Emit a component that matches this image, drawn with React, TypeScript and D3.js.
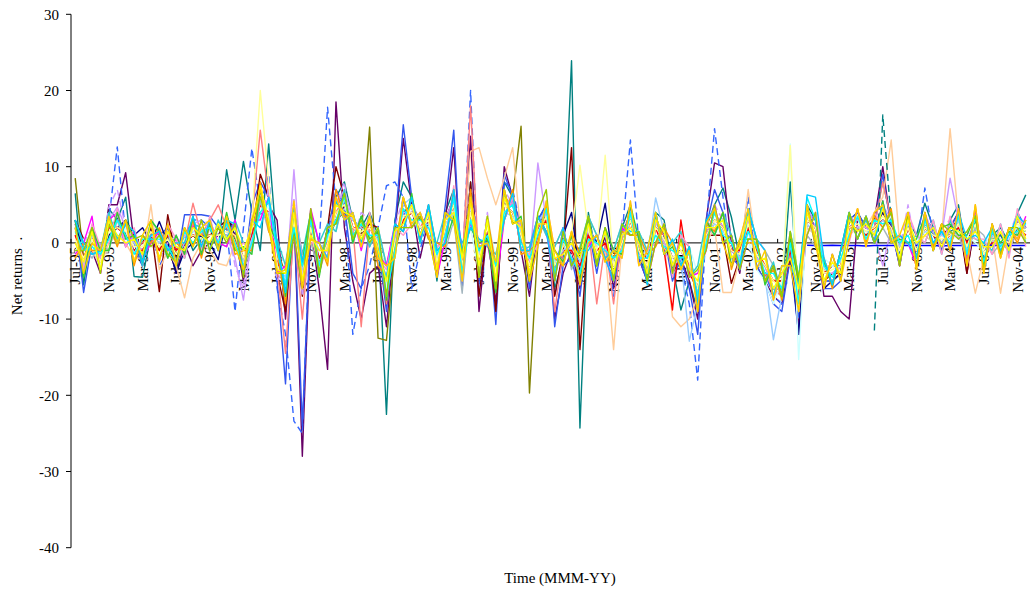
import * as d3 from 'd3';
import { useEffect, useRef } from 'react';

const WIDTH = 1030;
const HEIGHT = 590;

// monthly categories Jul-95 .. Dec-04
const months = d3
  .timeMonth.range(new Date(1995, 6, 1), new Date(2005, 0, 1))
  .map(d3.timeFormat('%b-%y'));

const tickLabels = [
  'Jul-95', 'Nov-95', 'Mar-96', 'Jul-96', 'Nov-96', 'Mar-97', 'Jul-97', 'Nov-97', 'Mar-98', 'Jul-98',
  'Nov-98', 'Mar-99', 'Jul-99', 'Nov-99', 'Mar-00', 'Jul-00', 'Nov-00', 'Mar-01', 'Jul-01', 'Nov-01',
  'Mar-02', 'Jul-02', 'Nov-02', 'Mar-03', 'Jul-03', 'Nov-03', 'Mar-04', 'Jul-04', 'Nov-04',
];
const yTicks = [-40, -30, -20, -10, 0, 10, 20, 30];

// net returns (%) per fund, one value per month
const tealFund = [
  6.5, -5.5, 2, -3, 4.5, 3, 6, -4.4, -4.5, 1,
  -2, 1, -3.5, 2, -1, 0.5, 2, -1, 9.6, 3,
  10.7, 4, -1, 13, -1, -8, 5, -6, 4, -4,
  2, 6, 8, 3, 2, 4, 1, -22.5, 3, 8,
  6, 1, 4, -5, 4, 7, -5, 8, -4, 3,
  -6, 8, 6, 2, -5, 3, 5, -6, -2, 23.9,
  -24.3, 4, -2, 1, -5, 2, 5, -2, -4, 4,
  3, -3, -8.8, -5, -9, 2, 5, 7.2, 3.4, -2,
  4, -2, -4, -6, -7, 8, -8, 5, 3, -5,
  -5, -4, 3, 4, 2, 3, 8, 3, -2, 3,
  1, 5.2, 2, -1, 3, 5, -2, 4, -3, 1,
  2, 0, 3.9, 6.3,
];
const plumFund = [
  3, -2, -1, -4, 5, 5, 9.2, 0, -1, 1,
  -2, 0, -4, 0, -3, -1, 0, 1, 3, 1,
  -5, 2, 6, 5, 3, -10, 4, -28, 2, -6,
  -16.6, 18.5, 2, -5, -10, -4, -3, -11, 1, 13.7,
  5, -2, 3, -3, 3, 12.5, -5, 14, -9, 2,
  -8, 10, 6, -1, -7, 2, 4, -10, -4, -1,
  -6, 3, -3, 1, -6, 1, 4, -2, -5, 3,
  1, -4, -2, -5, -10, 3, 10.5, 10, 0, -4,
  4, -3, -5, -7, -8, -2, -11, 4, 2, -7,
  -7, -9, -10, 3, 2, 3, 10, 2, -3, 3,
  -2, 3, 1, -1, 2, 4, -4, 3, -3, 1,
  1, -1, 3, 2,
];
const dashedBlueFund = [
  2, -4, 1, -2, 3, 12.6, 1, -1, -3, 3,
  -3, -1, -2, 1, 3, 3, 2, 1, 2, -9,
  2, 12.4, 5, 9, -6, -12, -23.4, -25, 4, 0,
  17.8, 5, 6, -12, -6, -3, 2, 7.5, 8, 6,
  -6, -1, 4, -4, 3, 6, -4, 20, -6, 3,
  -6, 8, 7, 2, -5, 2, 5, -7, -2, 0,
  -5, 2, -2, 1, -7, 1, 13.5, 0, -4, 3,
  1, -3, -3, -8, -18, 2, 15, 6, -2, -1,
  6, -3, -4, -7, -8, -1, -10, 4, 2, -5,
  -5, -4, 3, 3, 2, 2, 5, 2, -2, 2,
  -1, 7.2, 1, 0, 2, 3, -1, 3, -2, 1,
  1, 0, 3, 2,
];
const oliveFund = [
  8.5, -2, 0, -3, 1, 2, 1, -1, 0, 1,
  -1, 2.5, -1, 0, 1, 0, 1, 1, 2, 0.5,
  -2, 1, 4, 3, -1, -4, 2, -3, 2, -2,
  0, 3, 4, 2, 1, 15.2, -12.5, -12.8, -1, 3,
  4, 2, 3, -2, 2, 4, -3, 3, -2, 2,
  -4, 5, 6, 15.3, -19.7, 0, 4, -3, -1, -1,
  -3, 1, -1, 0, -3, 0, 3, -1, -3, 2,
  0, -2, -1, -3, -6, 1, 3, 2, -1, -1,
  2, -1, -3, -5, -5, -1, -7, 3, 2, -4,
  -3, -3, 2, 2, 1, 2, 3, 2, -1, 2,
  -1, 2, 1, 0, 1, 2, 0, 2, -1, 0,
  0, 0, 2, 1,
];
const blueFund = [
  3, -6.5, 0, -2, 2, 3, 2, 0, -3, 2,
  1, 2, -3, 3.7, 3.7, 3.7, 3.5, 2, 3, 2,
  -4, 5, 8, 6, -5, -18.5, 4, -24, 3, -4,
  1, 7, 5, -4, -6, 2, 0, -9, 2, 15.5,
  6, 1, 4, -4, 5, 14.8, -6, 7, -5, 3,
  -10.7, 9, 6, 2, -6, 3, 5, -11, -3, -2,
  -7, 2, -4, 2, -5, -1, 5, -2, -5, 3,
  1, -5, -2, -6, -12, 2, 7, 4, -2, -3,
  4, -3, -5, -8, -9, -2, -12, 4, 3, -6,
  -6, -5, 3, 4, 2, 2, 9, 2, -3, 3,
  -2, 3, 2, -1, 2, 4, -3, 4, -3, 1,
  1, -1, 4, 2,
];
const maroonFund = [
  3, 0.5, 0, -1, 2, 3, 1, -1, 0, 2,
  -6.4, 3.7, -2, 0, 1, 0, 1, 2, 3, 2,
  -4, 1, 9, 6, -4, -9, 4, -7, 3, -3,
  2, 10, 6, 2, 1, 2.5, 2, -8, 0, 4,
  5, 3, 3, -3, 3, 6, -4, 8, -7, 2,
  -9, 6, 5, 1, -5, 2, 4, -7, -1, 12.5,
  -14, 2, -2, 1, -4, 0, 3, -1, -4, 2,
  0, -3, -2, -3, -7, 1, 1, 1, -5.3, -2,
  3, -2, -4, -6, -6, -2, -8, 3, 2, -5,
  -4, -4, 3, 3, 2, 2, 4, 2, -2, 2,
  -1, 2, 1, 1, 2, 3, -4, 3, -2, 0,
  1, 0, 3, 2,
];
const navyFund = [
  2.5, -1, 0, -2, 1, 2, 3, 1, 2, 0,
  2.8, 0, -4, -1, 0, 1, 0, -2.2, 3.5, 1,
  -2, 1, 4, 3, -2, -6, 3, -6, 3, -3,
  1, 3, 5, 2, 2, 2, 1, -6, 0, 3,
  4, 2, 3, -3, 2, 5, -3, 4, -3, 2,
  -5, 5, 4, 1, -3, 2, 4, -4, 1, 4,
  -4, 2, 0, 5.2, -3, 1, 3, -1, -2, 2,
  1, -2, -2, -3, -7, 1, 4, 2, -1, -2,
  2, -2, -3, -6, -6, -1, -12, 3, 2, -6,
  -5, -4, 2, 3, 2, 2, 4, 2, -1, 2,
  -1, 2, 1, 1, 1, 3, 0, 3, -2, 1,
  1, 0, 3, 2,
];
const peachFund = [
  1, -1, -1, -3, 0, 1, 0, -2, -2, 5,
  -3.5, -1, -3, -7.2, -2, 0, -1, -2.7, -3, 0,
  -3, 2, 5, 4, -3, -6, 2, -4, 1, -3,
  0, 4, 5, 2, 1, 2, 1, -6, 0, 3,
  4, 2, 3, -2, 2, 4, -2, 12, 12.5, 8.5,
  5, 8.5, 12.5, 1, -4, 1, 3, -4, 0, -1,
  -4, 1, -2, -1, -14, 0, 3, -1, -4, 2,
  0, -9.7, -11, -10, -7, 0, 2, -6.5, -6.5, -2,
  7, -1, -3, -5, -4, -1, -7, 2, 1, -3,
  -3, -3, 1, 2, 2, 4, 6, 13.5, 0, 2,
  -1, 1, 0, 1, 15, 3, -1, -6.6, -2, 1,
  -6.6, 0, 2, 1,
];
const salmonFund = [
  1, -2, 1, -2, 3, 2, 1, 0, 0, 1,
  0, 1, -1, 0, 5.2, 1, 3, 5, 2, 1,
  -3, 3, 14.8, 6, -3, -14.5, 2, -10, 3, -4,
  0, 4, 6, 2, -11, 2, 1, -8, 1, 4,
  4, 2, 4, -3, 2, 5, -3, 18, -3, 2,
  -5, 6, 5, 1, -4, 2, 4, -9, -1, -1,
  -3, 2, -8, 0, -8, 1, 3, -1, -3, 2,
  1, -2, -1, -3, -7, 1, 4, 2, -1, -2,
  3, -2, -4, -6, -7, -1, -8, 3, 2, -4,
  -4, -3, 2, 3, 2, 2, 8, 3, -1, 2,
  -1, 2, 1, 1, 1, 3, -1, 3, -2, 1,
  1, 0, 3, 2,
];
const lavenderFund = [
  0, -1, 1, -1, 3, 4.7, 2, 0, -1, 1,
  0, 1, -1, 1, 2, 2.5, 2, 1, 1, -2,
  -7.5, 1, 6, 5, -2, -6, 9.6, -5, 3, -2,
  -1, 5, 7, 3, 2, 3, 0, -7, 1, 4,
  4, 2, 3, -2, 3, 6, -4, 6, -3, 3,
  -5, 6, 5, 1, -3, 10.5, 3, -4, -1, -1,
  -3, 2, -1, 0, -4, 0, 4, -1, -4, 3,
  0, -2, -1, -3, -7, 1, 4, 2, -1, -2,
  3, -2, -3, -6, -6, -1, -8, 3, 2, -4,
  -4, -3, 3, 3, 2, 1, -3, 2, -1, 2,
  -1, 4, 1, 1, 8.5, 3, -3, 3, -2, 0,
  1, 0, 3, 2,
];
const dashedLavenderFund = [
  -1, 0, 2, -2, 4.7, 7, 2, -1, 0, 1,
  -2, 0, 1, -1, 2.5, 3, 2.5, 2, 3, -3,
  -6, 4, 3, 7, -5, -3, 6, -7, 4, -4,
  2, 5, 8, 0, 4, 3, -3, -4, 2, 6,
  2, 4, 1, -1, 3, 3, -2, 7, -3, 4,
  -4, 7, 5, 2, -2, 3, 4, -5, 1, -2,
  -3, 3, -2, 2, -5, 3, 2, 0, -4, 3,
  -1, -3, 1, -4, -4, 2, 5, 3, -2, -1,
  4, -2, -3, -7, -6, 0, -9, 5, 2, -5,
  -5, -3, 4, 2, 3, 1, 5, 3, -1, 5,
  -1, 3, 0, 2, 3, 2, -1, 4, -2, 2,
  -1, 1, 4, 2,
];
const redFund = [
  1, -2, 1, -3, 2, 2, 1, -1, -1, 1,
  -1, 1, -1, 0, 1, 1, 1, 1, 1, 1,
  -2, 1, 5, 4, -2, -6, 3, -5, 2, -2,
  0, 4, 5, 2, 2, 2, 0, -6, 0, 3,
  4, 2, 3, -2, 2, 5, -3, 4, -2, 2,
  -4, 5, 4, 1, -3, 1, 3, -3, -1, -1,
  -3, 1, -1, 0, -3, 0, 3, -1, -2, 2,
  -1, -8.8, 3, -4, -6, 1, 3, 2, -1, -1,
  2, -1, -3, -5, -5, -1, -7, 3, 2, -4,
  -3, -3, 2, 2, 1, 2, 3, 2, -1, 2,
  -1, 2, 1, 0, 1, 2, 0, 2, -1, 0,
  0, 0, 2, 1,
];
// funds that start late (first value at the start index)
const dashedTealStart = 95;
const dashedTealFund = [
  -11.5, 16.8, 3, -1.5, 2.5, -1, 2.5, 1, 0, 1.5, 2, -1, 3, -2, 0.5, 1, -0.5, 2, 1.5,
];
const flatBlueStart = 87;
const flatBlueFund = [
  -0.3, -0.35, -0.35, -0.3, -0.35, -0.35, -0.35, -0.4, -0.35, -0.35,
  -0.35, -0.3, -0.35, -0.35, -0.35, -0.35, -0.4, -0.35, -0.35, -0.35,
  -0.35, -0.35, -0.3, -0.35, -0.35, -0.35, -0.35,
];
const lightBlueFund = [
  2, -3, 1, -1.5, 2.5, 1, 0.5, 0, -1.5, 1,
  0, 1.5, -2.5, 0, 1.5, 1.5, 2, 1, 1, 2,
  -2.5, 0.5, 4, 4, -3, -4.5, 3.5, -3.5, 2, -1,
  0.5, 3, 4.5, 3, 2, 1, 0.5, -6, 0, 5,
  6, 2, 2.5, -2, 2.5, 4, -3.5, 3, -1.5, 2.5,
  -3.5, 4, 3.5, 1.5, -2, 2.5, 4.5, -2.5, -1, 0,
  -2.5, 2.5, -0.5, 1, -3, 1, 3.5, 1, -2, 5.9,
  1.5, -3, -2, -12.9, -8, 0.5, 2.5, 1.5, 0, -2,
  1.5, -2, -4.5, -12.7, -7, 0, -8, 2.5, 1, -3.5,
  -3, -2.5, 1.5, 2, 1.5, 1.5, 3, 1.5, -0.5, 2.5,
  0, 1.5, 1, 1, 0.5, 3, -1, 2, -1, 1,
  0.5, 0.5, 2, 2,
];
const greyFund = [
  -2, -0.5, -2, 0, -1, 3, -0.5, 1.5, -2, 0,
  1, -2, 1, -2, 2.5, -1, 2, 0, -0.5, 2.5,
  -3, -1, 5.5, 1.5, 0, -6, 4, -1.5, 0, -3.5,
  2, 1.5, 6, 0, 3.5, -0.5, 2, -3, 2, 1.5,
  6, 0, 4, -0.5, -1, 3, -6.6, 5.5, 0, 0,
  -1.5, 3, 6, -1, -1.5, 3.5, 1, -0.5, 2, -3.5,
  -1, 3.5, 1, -2, -1, 2.5, 1, 1.5, -1, 0,
  2.5, -4, 0.5, -0.5, -8, 3, 1, 4, 1, -3.5,
  4.5, 0.5, -1, -3, -7, 1.5, -4.5, 1, -0.5, -2,
  -5.5, -1, 4, 0.5, 3.5, 0, 2, 0, 1, 0,
  -2, 2.5, 2, 0, 1.5, 1, -2, 2, 1, -1.5,
  0, -1, 1.5, 2,
];
const paleCyanFund = [
  -1, 0.5, 0, -3, 3, 0, 2, -1.5, 1, 0,
  1.5, -1.5, 0, -1, 2, -1.5, 3, 0, 2.5, 0,
  -3, 2, 3, 5, -2, -4, 1.5, -5, 4, -3,
  1, 2, 6, 0.5, 3, 0, 2, -6, 2, 1.5,
  5, 0, 4, -1, 0.5, 3, 0, 2, -4, 3.5,
  -2, 6, 2.5, 3, -4.5, 3, 1.5, -1, -2.5, 1,
  -5, 0, 1, -2.5, -4, 2, 1, 1.5, -1, 4,
  -1.5, 0.5, -3.5, -0.5, -4, 3, 1, 4, -3, 0.5,
  0.5, -3.5, -5, -8, -5, 13, -15.3, 4, 0, -2,
  -3, -4, 1, 3.5, 0, 3, 2, 3.5, -2, 3,
  0, 3, -1, 2, 0, 1.5, 1, 0, -1, 2,
  -1, 1.5, 2, 3,
];
const lightYellowFund = [
  0.5, -2, 0.5, -2.5, 1.5, 2, 1.5, -0.5, -0.5, 1.5,
  -0.5, 0.5, -1.5, 0.5, 1, 0.5, 1, 1, 1.5, 1,
  -2, 3, 20, 8, -3, -6, 3, -5, 2, -3,
  0, 4, 5, 2, 1.5, 2, 0, -5, 0, 3.5,
  4, 2, 3, -2.5, 2, 5, -3, 4, -2, 2,
  -4, 5, 4, 1, -3, 1.5, 3.5, -3, -0.5, 1,
  10.2, 1.5, -1, 11.5, -3, 0, 3, -1, -3, 2,
  0.5, -2, -1, -2.5, -6, 1, 3, 2, -1, -1.5,
  2.5, -1.5, -3, -5, -6, 12.8, -9, 3, 2, -4,
  -3.5, -3, 2, 2.5, 1.5, 2, 3.5, 2, -1, 2,
  -1, 2, 1, 0.5, 1, 2.5, -0.5, 2.5, -1.5, 0.5,
  0.5, 0, 2.5, 1.5,
];
const turquoiseFund = [
  3, -0.5, -1.5, -1, 4, 0.5, 2.5, 1.5, -3, 3,
  1.5, -1, 0.5, -2, 2.5, 2, -1, 3, 0.5, 3,
  0, -1, 7, 2, 0.5, -3, 5, -1.5, 4, 0,
  2.5, 1.5, 7, 0, 3.5, -0.5, 2, -3, -2, 6,
  2, 4, 0.5, 0, 4, 2.5, 0, 2, 0.5, -0.5,
  -1.5, 3, 6, -1, -0.5, 3.5, 1, -0.5, 2, -3,
  -0.5, 3.5, 1, -2, -1, 2.5, 1, 1.5, -1, 4,
  -1.5, 0, 1.5, -4.5, -3, 3, 1, 4, 1, -3.5,
  4.5, 0.5, -5, -2.5, -7, 1.5, -4.5, 5, -0.5, -2,
  -5.5, -1, 3.5, 0.5, 3, 0, 5.5, 0, 1, 0,
  1, 0, 3, -1.5, 3, 0.5, 1.5, 0.5, 0, -1,
  2.5, -1.5, 4, 0,
];
const magentaFund = [
  -1.5, 0, 3.5, -4, 3, 4, -0.5, 1.5, -2, 0,
  1.5, -1, 0.5, -1.5, 2.5, -1, 3, 0, -0.5, 3,
  -4, 3, 3, 6, -4, -3, 1, -6, 4.5, 0,
  -2, 6, 3, 4, -1, 3.5, -1.5, -3, 2.5, 1.5,
  6, 0.5, 5, -4.5, 0.5, 7, -1, 2.5, 0, 0,
  -6, 3, 6, -1, -1, 3.5, 1.5, -5, 2, -3,
  -1, -0.5, 1, -2, -5, 2, 1, 1, -5, 0,
  2.5, -4, 0.5, -4.5, -4, -1, 5, 0, 1, -3.5,
  0.5, 0.5, -5, -3, -7, 1, -5, 1, 4, -6,
  -1.5, -5, 4, 0.5, 3.5, 0, 5.5, 0, 1, 0,
  -3, 4, -1, 2.5, -1, 4.5, -2.5, 4.5, -3.5, 2.5,
  -1.5, 2, 0.5, 3.5,
];
const pinkFund = [
  2.5, -3.5, 2.5, -0.5, 0, 4.5, -0.5, 2, -2, 3,
  -2.5, 2.5, 0.5, -2, 3, -1, 3.5, -1, 3.5, -1,
  0, -1, 7, 2, 0, -7.5, 5.5, -2, 0, 0,
  -2, 6, 3, 4, -0.5, 4, -2, -3.5, 2, 1,
  2.5, 4, 1, -0.5, 0, 7.5, -5, 6, -0.5, 0,
  -2.5, 3, 6, -1, -1.5, -0.5, 5.5, -1, -2.5, 1,
  -5.5, 3.5, -3, 2, -1, -2, 5.5, -3, -1, 0,
  2.5, -4.5, 1, -0.5, -8.5, 3, 1.5, 4, -3, 0.5,
  0.5, 0.5, -1, -7.5, -3, -3, -5.5, 1, 4, -2,
  -5.5, -1, 0, 4.5, -0.5, 4, 2, 4, -3, 4,
  1, 0, 3, -1.5, 3.5, 0.5, 1.5, 0.5, 0.5, -1.5,
  2.5, -2, 4.5, -0.5,
];
const orangeFund = [
  -2, 0, -1, -1, 2.5, -0.5, 3, -3, 1, 0,
  2, -1, 0, -1, 3, -2, 2.5, -0.5, 3, -1.5,
  -1, -1, 8, 1.5, -1, -8, 4.5, -3, 0.5, 0,
  -3, 7, 3.5, 3.5, 0, 3.5, -3, -4.5, -1, 6,
  2, 3.5, 0.5, 0, -0.5, 7, -4.5, 7, -4.5, 3.5,
  -3, 3, 7, -1.5, -1, 0, 5, -2, -3, 1.5,
  -1.5, 0, 1, -2.5, -2, 1.5, 1, 1, -1.5, -0.5,
  2, 0, -3.5, -1, -9, 2.5, 1.5, 4, -3.5, 0,
  0, 0, -5, -3.5, -7.5, 1, -5.5, 5, -0.5, -2,
  -6, -1, 0.5, 4.5, 0, 3.5, 2, 4.5, -3, 4,
  -3.5, 4, -0.5, 2.5, -1, 4, -3, 5, -4, 2.5,
  -2, 2, 0, 3,
];
const greenFund = [
  3, -4.5, 2, -1, -1, 4, 0.5, 1, -2.5, 3,
  1.5, -2, 1, -1.5, 3.5, -1.5, 2.5, -1, 4, -1,
  -0.5, -1.5, 7, 2.5, 0, -7, 1.5, -2.5, 4, -4.5,
  2, 2.5, 6.5, 0, 3.5, 0.5, 1.5, -7.5, 2.5, 1.5,
  6.5, 0, 5, -1, 0, 3.5, -1.5, 2, 0, 0.5,
  -6.5, 7, 2.5, 3.5, -5, 3.5, 1.5, -1, -2.5, 1,
  -5, 3.5, -3, 2, -1, -1.5, 5, 0.5, -5, 4,
  -1.5, -0.5, -3, -0.5, -8.5, 3, 1, 4, -3, 0.5,
  0.5, 0.5, -5.5, -3, -7, 0.5, -5, 5, 0, -2.5,
  -5.5, -1, 4, 0.5, 3.5, 0, 5.5, 0, 0.5, 0,
  0.5, 3.5, -1, 2, 2.5, 1, 1, 3.5, -3, 2,
  0, 1.5, 1, 3,
];
const cyanFund = [
  3, 0, -1.5, -1, 3.5, 0, 2.5, 1.5, -2.5, 1,
  1.5, -1, 0, 0, 3.5, -0.5, 3, -1, 3, 2.5,
  -4, 3, 2, 6, 0, -6.5, 4.5, -2.5, 0.5, 0,
  -2, 5.5, 3, 4, 0, 3.5, -1.5, -4.5, 2.5, 1.5,
  6, 0, 5, -1, 0, 7, -1, 2, 0.5, 0,
  -2.5, 3, 6.5, -1, -1, 3.5, 1.5, -5, 2, -3,
  -1, -1, 1, -2, -5, 2.5, 1.5, 1.5, -5.5, 4,
  -1.5, 0.5, -3, -0.5, -8, 3, 4.5, 0, 1, -3.5,
  4.5, 0.5, -1, -7, -3, -3, -5.5, 6.3, 6, -2,
  -5.5, -1, 4, 0.5, 3.5, 0, 5, 0.5, 1, 0,
  -2, 3.5, 0, 1.5, -0.5, 4, 0.5, 1, 0, 2,
  -1, 1, 3.5, 2.5,
];
const limeFund = [
  -1, -1, 2, -4, 2.5, 0, 3, 0.5, 1, -0.5,
  1, -1.5, -2.5, 2, -0.5, 3, -1, 2, 0, 2.5,
  -4.5, 3, 6, 2.5, -4, -4, 1, -6, 4.5, -4,
  2, 2.5, 6.5, 0.5, 3, 0, 2, -7, 2, 2,
  2, 3.5, 1, -4.5, 4, 3, -1.5, 6, -4.5, 3.5,
  -6, 7, 2.5, 3, -5, 4, 7, -5, 1.5, -3,
  -1, 3.5, -3, 2, -5, 2.5, 1, 1.5, -5, 0,
  2.5, -4, 0.5, -4.5, -3.5, -1, 5, 0, 1, -3.5,
  0.5, 0.5, -5, -3, -7, 1.5, -4.5, 1, 4, -6,
  -1.5, -5, 4, 0.5, 3.5, 0, 2, 4, -3, 4,
  -3, 4, -1, 2.5, 1.5, 0.5, 1.5, 3.5, -3.5, 2.5,
  -1.5, 2, 2, 0,
];
const yellowFund = [
  0, -2.5, 1.5, -3.5, 3, 1, 0, 0.5, -1.5, 2.5,
  -2, 1.5, -0.5, -1, 2, 1, 0, 2.5, 0.5, 2,
  -1, 2, 7.5, 3, -3.5, -4, 4, -5, 1, -1,
  -1, 5, 4, 3.5, 0.5, 3, -1, -5, 1.5, 2.5,
  5, 1, 4, -3.5, 3, 4, -2, 5.5, -3, 3,
  -5, 6, 3, 2, -4, 2.5, 2.5, -2, -1.5, 0,
  -2, 2.5, -2, 1.5, -4, 1, 2, 0, -4, 3,
  1.5, -3, 0, -3.5, -5, 2, 2, 3, -2, -0.5,
  3.5, -2.5, -2, -6, -4, -2, -6, 4, 1, -5,
  -2.5, -4, 3, 1.5, 2.5, 1, 4.5, 1, -2, 3,
  0, 1, 2, -0.5, 2, 1.5, 0.5, 1.5, -0.5, -0.5,
  1.5, -1, 3.5, 0.5,
];
const aquaFund = [
  1.5, -1, -0.5, -1.5, 0.5, 3, 1, -1.5, 0.5, 0.5,
  0.5, -0.5, -2.5, 1.5, 0, 1.5, 2, 0, 2.5, 0,
  -3, 0, 4, 5.5, -1, -5.5, 2, -3, 3, -3,
  1, 3, 6, 1, 2.5, 1, 1, -7, -1, 4.5,
  3, 3, 2, -1.5, 1, 6, -4, 3, -1, 1,
  -3, 4, 5, 0, -2, 1, 4.5, -4, 0.5, -2,
  -4, 0.5, 0, -1, -2, -1, 4, -2, -2, 1,
  -0.5, -1, -2, -1.5, -7, 0, 4, 1, 0, -2.5,
  1.5, -0.5, -4, -4, -6, 0, -8, 6, 3, -3,
  -4.5, -2, 1, 3.5, 0.5, 3, 2.5, 3, 0, 1,
  -2, 3, 0, 1.5, 0, 3.5, -1.5, 3.5, -2.5, 1.5,
  -0.5, 1, 1.5, 2.5,
];
const goldFund = [
  2, -4, 0, -1, 3.5, 0, 3, -2.5, 1, 3,
  -2.5, 2.5, -3, 2, -0.5, 2, 3, -1, 3.5, -0.5,
  -3.5, 3, 7, 2, -4, -3.5, 5.5, -6, 0.5, 0,
  -2.5, 6, 3, 4, -0.5, 3.5, -2, -3, -2, 6,
  2.5, 4, 1, -4.5, 4, 3, -5, 6, -0.5, 0,
  -2.5, 7, 2.5, 3, -5, -0.5, 5.5, -1, -3, 1.5,
  -5.5, 0, 1, -2.5, -1, -2, 5.5, -3, -1, 4,
  -1.5, 0, -3.5, -1, -9, 2.5, 4.5, 0, -3, 0.5,
  4.5, -3.5, -1, -7.5, -3, -3, -9, 5, 0, -6,
  -1.5, -5, 0.5, 4.5, -0.5, 4, 5, 0, 1, 4,
  -3.5, 4, -1, 2.5, -1, 4.5, -3, 5, -4, 2.5,
  -2, 2, 0.5, 3,
];

const series = [
  { values: tealFund, start: 0, color: '#008080', dash: null },
  { values: plumFund, start: 0, color: '#660066', dash: null },
  { values: dashedBlueFund, start: 0, color: '#3366FF', dash: '7,4' },
  { values: oliveFund, start: 0, color: '#808000', dash: null },
  { values: blueFund, start: 0, color: '#3355EE', dash: null },
  { values: maroonFund, start: 0, color: '#800000', dash: null },
  { values: navyFund, start: 0, color: '#000080', dash: null },
  { values: peachFund, start: 0, color: '#FFCC99', dash: null },
  { values: salmonFund, start: 0, color: '#FF8080', dash: null },
  { values: lavenderFund, start: 0, color: '#CC99FF', dash: null },
  { values: dashedLavenderFund, start: 0, color: '#CC99FF', dash: '7,4' },
  { values: redFund, start: 0, color: '#FF0000', dash: null },
  { values: dashedTealFund, start: dashedTealStart, color: '#008080', dash: '7,4' },
  { values: flatBlueFund, start: flatBlueStart, color: '#0000FF', dash: null },
  { values: lightBlueFund, start: 0, color: '#99CCFF', dash: null },
  { values: greyFund, start: 0, color: '#A3B5BE', dash: null },
  { values: paleCyanFund, start: 0, color: '#CCFFFF', dash: null },
  { values: lightYellowFund, start: 0, color: '#FFFF99', dash: null },
  { values: turquoiseFund, start: 0, color: '#33CCCC', dash: null },
  { values: magentaFund, start: 0, color: '#FF00FF', dash: null },
  { values: pinkFund, start: 0, color: '#FF99CC', dash: null },
  { values: orangeFund, start: 0, color: '#FF9900', dash: null },
  { values: greenFund, start: 0, color: '#33CC33', dash: null },
  { values: aquaFund, start: 0, color: '#00FFFF', dash: null },
  { values: cyanFund, start: 0, color: '#00CCFF', dash: null },
  { values: limeFund, start: 0, color: '#99CC00', dash: null },
  { values: yellowFund, start: 0, color: '#FFFF00', dash: null },
  { values: goldFund, start: 0, color: '#FFCC00', dash: null },
];

const FONT = "'Liberation Serif', 'Times New Roman', serif";

export default function App() {
  const ref = useRef<SVGSVGElement>(null);

  useEffect(() => {
    const svg = d3.select(ref.current);
    svg.selectAll('*').remove();

    const left = 71;
    const right = 1030;

    const x = d3.scalePoint<string>().domain(months).range([left, right]).padding(0.5);
    const y = d3.scaleLinear().domain([-40, 30]).range([547.7, 14.3]);
    const step = x.step();

    svg.append('rect').attr('width', WIDTH).attr('height', HEIGHT).attr('fill', '#fff');

    // y axis
    const yAxis = svg.append('g').attr('transform', `translate(${left},0)`);
    yAxis.append('line')
      .attr('y1', y(30)).attr('y2', y(-40))
      .attr('stroke', '#000').attr('stroke-width', 1);
    yAxis.selectAll('line.tick')
      .data(yTicks)
      .enter()
      .append('line')
      .attr('class', 'tick')
      .attr('x1', -5).attr('x2', 0)
      .attr('y1', (d) => y(d)).attr('y2', (d) => y(d))
      .attr('stroke', '#000');
    yAxis.selectAll('text')
      .data(yTicks)
      .enter()
      .append('text')
      .attr('x', -12)
      .attr('y', (d) => y(d))
      .attr('dy', '0.35em')
      .attr('text-anchor', 'end')
      .style('font-family', FONT)
      .style('font-size', '15px')
      .text((d) => String(d));

    // category axis crossing at zero
    const y0 = y(0);
    svg.append('line')
      .attr('x1', left).attr('x2', right)
      .attr('y1', y0).attr('y2', y0)
      .attr('stroke', '#000');
    svg.selectAll('line.xtick')
      .data(tickLabels)
      .enter()
      .append('line')
      .attr('class', 'xtick')
      .attr('x1', (d) => (x(d) as number) - step / 2)
      .attr('x2', (d) => (x(d) as number) - step / 2)
      .attr('y1', y0 - 4).attr('y2', y0)
      .attr('stroke', '#000');
    svg.selectAll('text.xlab')
      .data(tickLabels)
      .enter()
      .append('text')
      .attr('class', 'xlab')
      .attr('transform', (d) => `translate(${x(d)},${y0 + 4}) rotate(-90)`)
      .attr('dy', '0.35em')
      .attr('text-anchor', 'end')
      .style('font-family', FONT)
      .style('font-size', '15px')
      .text((d) => d);

    // fund lines
    const g = svg.append('g');
    series.forEach((s) => {
      const line = d3.line<number>()
        .defined((d, i) => d != null && s.start + i < months.length)
        .x((d, i) => x(months[s.start + i]) as number)
        .y((d) => y(d));
      g.append('path')
        .datum(s.values)
        .attr('d', line)
        .attr('fill', 'none')
        .attr('stroke', s.color)
        .attr('stroke-width', 1.4)
        .attr('stroke-linejoin', 'round')
        .attr('stroke-dasharray', s.dash);
    });

    // titles
    svg.append('text')
      .attr('transform', `translate(22,${(y(30) + y(-40)) / 2 - 5}) rotate(-90)`)
      .attr('text-anchor', 'middle')
      .style('font-family', FONT)
      .style('font-size', '15px')
      .style('white-space', 'pre')
      .text('Net returns\u00a0\u00a0.');

    svg.append('text')
      .attr('x', 560)
      .attr('y', 583)
      .attr('text-anchor', 'middle')
      .style('font-family', FONT)
      .style('font-size', '15px')
      .text('Time (MMM-YY)');
  }, []);

  return (
    <svg
      ref={ref}
      width={WIDTH}
      height={HEIGHT}
      style={{ position: 'absolute', left: 0, top: 0, display: 'block' }}
    />
  );
}
